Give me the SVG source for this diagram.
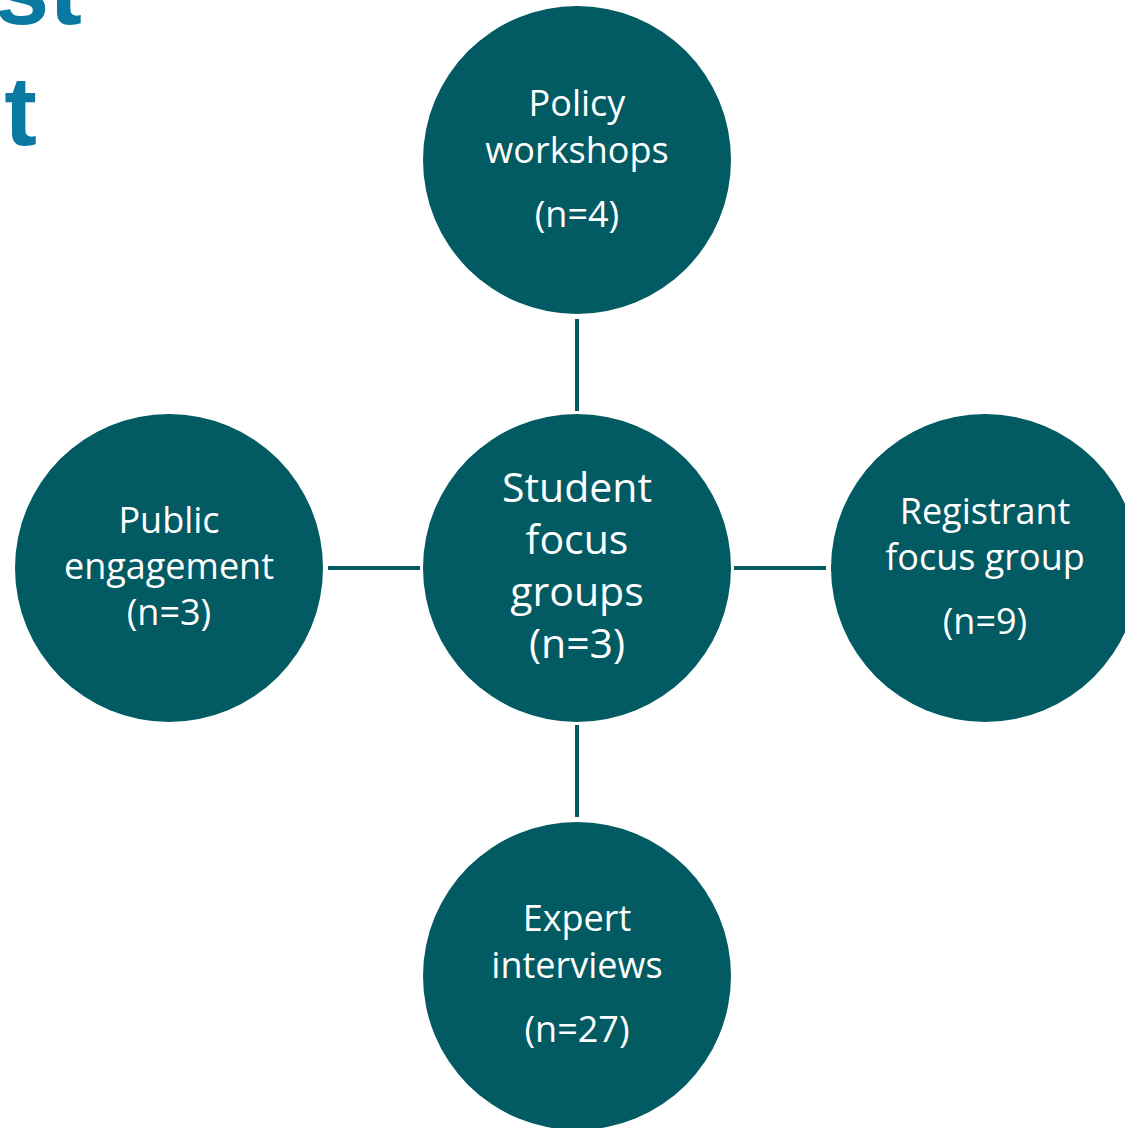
<svg xmlns="http://www.w3.org/2000/svg" width="1125" height="1128" viewBox="0 0 1125 1128">
<style>
.node{fill:#025a62}
.lbl{fill:#ffffff;font-family:"Open Sans","Noto Sans",sans-serif;font-size:36px;text-anchor:middle}
.big{font-size:41px}
.title{fill:#0a79a2;font-family:"Liberation Sans",Arial,sans-serif;font-weight:bold;font-size:98px;text-anchor:end}
.conn{stroke:#025a62;stroke-width:4;fill:none}
</style>
<rect width="1125" height="1128" fill="#ffffff"/>
<g id="title">
<text class="title" x="82" y="24">st</text>
<text class="title" x="37" y="145">t</text>
</g>
<g id="connectors">
<line class="conn" x1="577" y1="319" x2="577" y2="411"/>
<line class="conn" x1="577" y1="725" x2="577" y2="817"/>
<line class="conn" x1="328" y1="568" x2="420" y2="568"/>
<line class="conn" x1="734" y1="568" x2="826" y2="568"/>
</g>
<g id="policy">
<circle class="node" cx="577" cy="160" r="154"/>
<text class="lbl" x="577" y="116">Policy</text>
<text class="lbl" x="577" y="163">workshops</text>
<text class="lbl" x="577" y="227">(n=4)</text>
</g>
<g id="student">
<circle class="node" cx="577" cy="568" r="154"/>
<text class="lbl big" x="577" y="502">Student</text>
<text class="lbl big" x="577" y="554">focus</text>
<text class="lbl big" x="577" y="606">groups</text>
<text class="lbl big" x="577" y="658">(n=3)</text>
</g>
<g id="public">
<circle class="node" cx="169" cy="568" r="154"/>
<text class="lbl" x="169" y="533">Public</text>
<text class="lbl" x="169" y="579">engagement</text>
<text class="lbl" x="169" y="625">(n=3)</text>
</g>
<g id="registrant">
<circle class="node" cx="985" cy="568" r="154"/>
<text class="lbl" x="985" y="524">Registrant</text>
<text class="lbl" x="985" y="570">focus group</text>
<text class="lbl" x="985" y="634">(n=9)</text>
</g>
<g id="expert">
<circle class="node" cx="577" cy="976" r="154"/>
<text class="lbl" x="577" y="931">Expert</text>
<text class="lbl" x="577" y="978">interviews</text>
<text class="lbl" x="577" y="1042">(n=27)</text>
</g>
</svg>
